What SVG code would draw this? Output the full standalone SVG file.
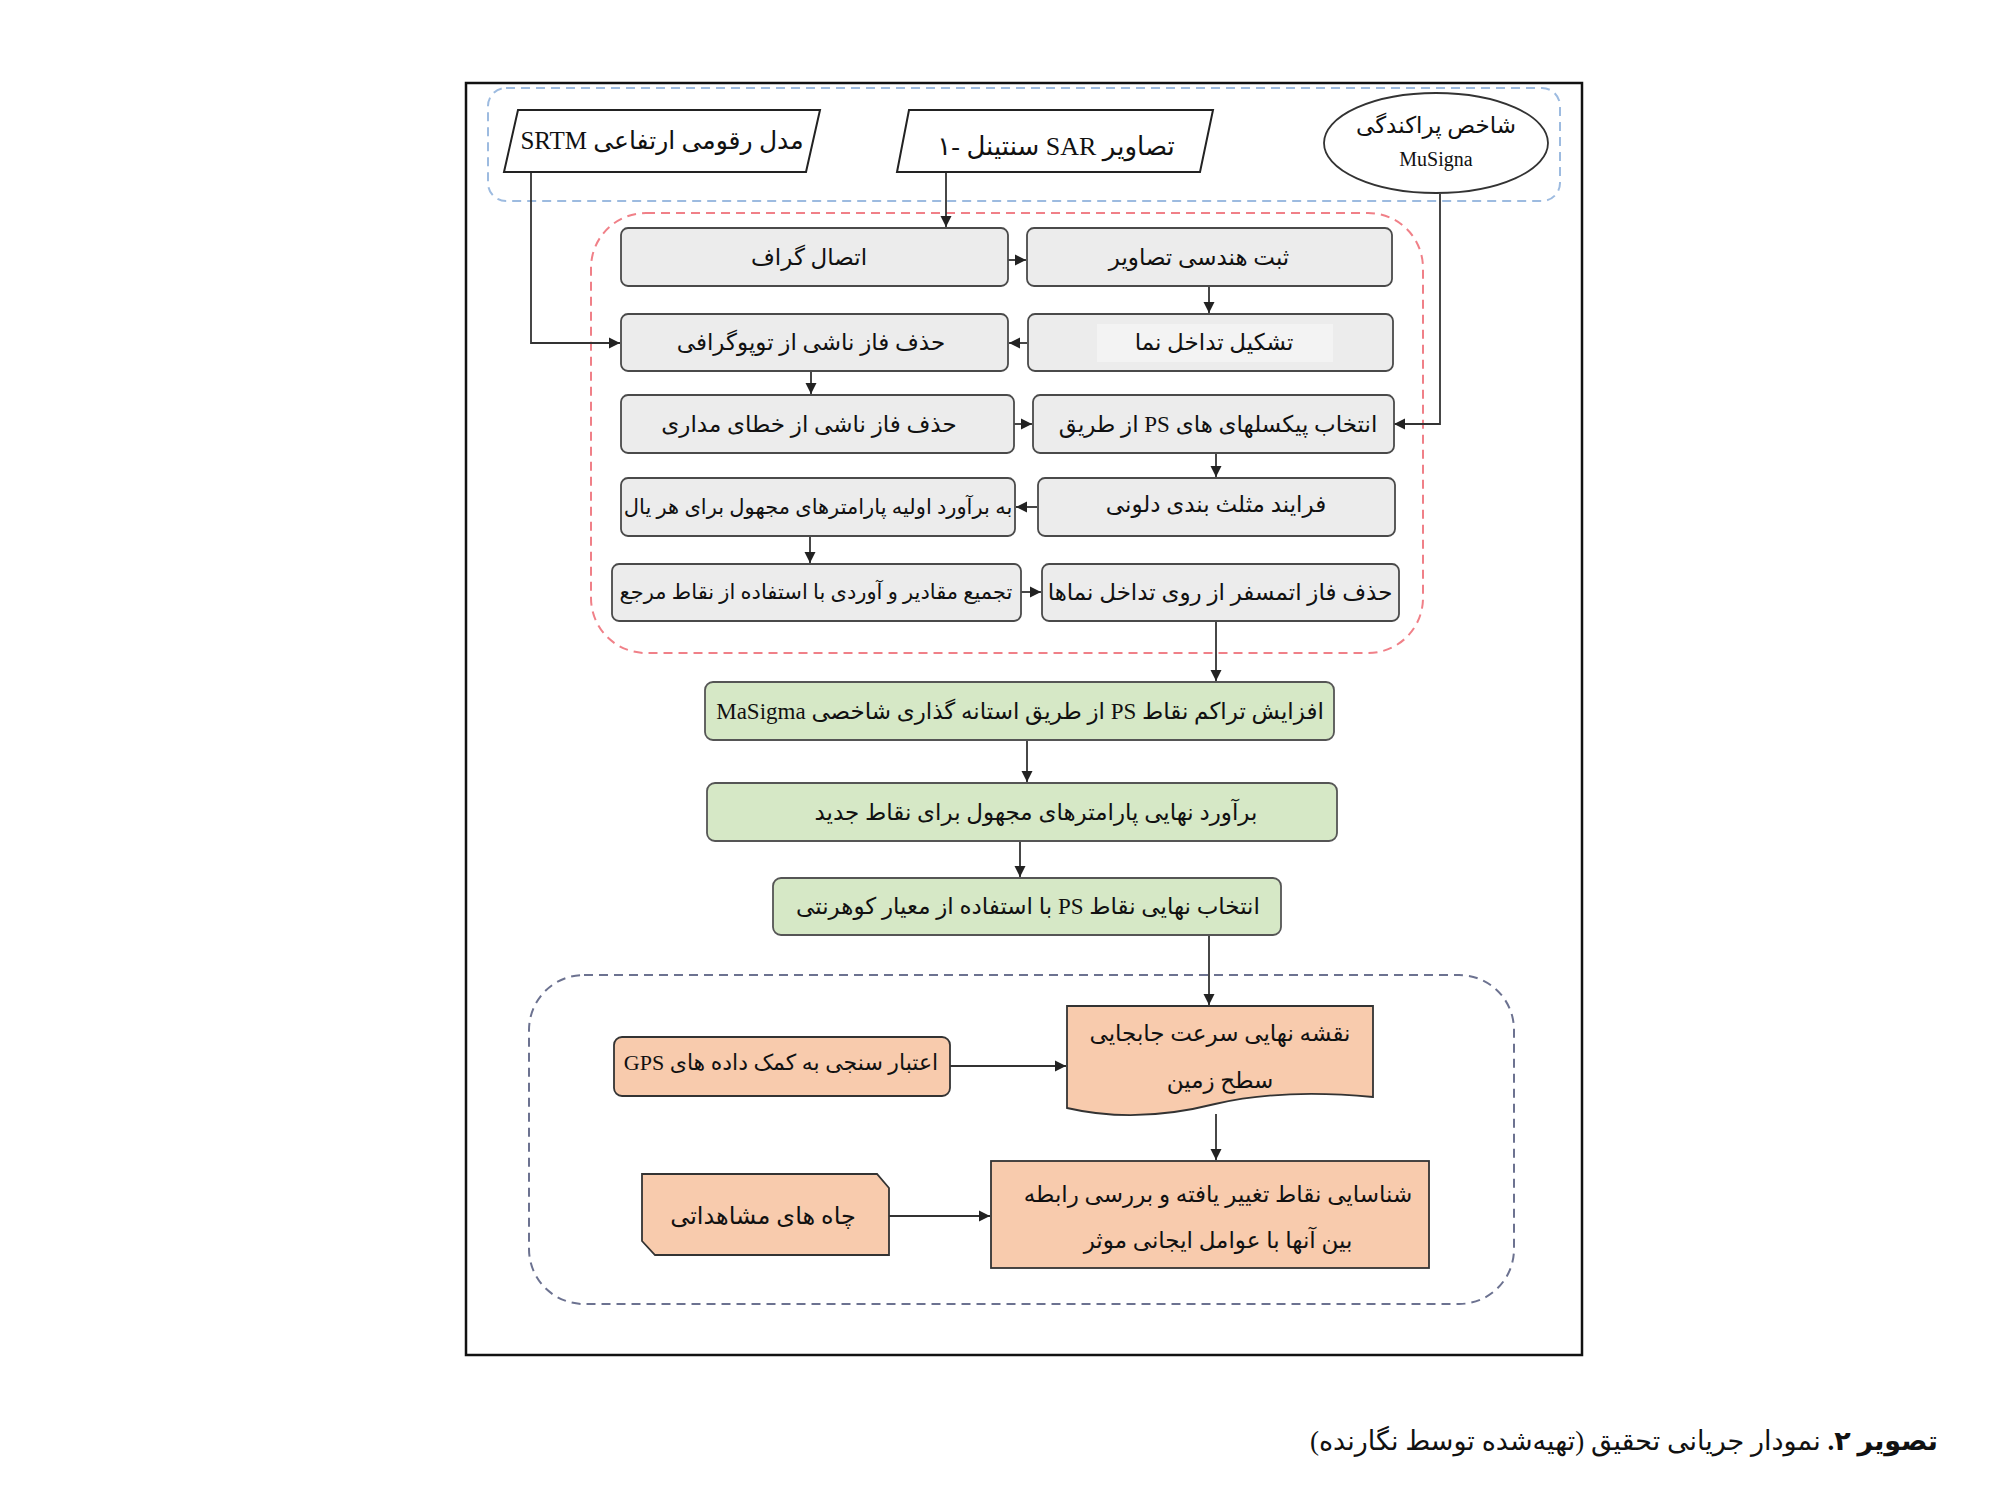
<svg xmlns="http://www.w3.org/2000/svg" width="2000" height="1497" viewBox="0 0 2000 1497">
<defs>
<marker id="arr" markerUnits="userSpaceOnUse" markerWidth="12" markerHeight="12" refX="11" refY="6" orient="auto">
<path d="M0,0.5 L11,6 L0,11.5 Z" fill="#222"/>
</marker>
<style>
.box{fill:#ececec;stroke:#4a4a4a;stroke-width:1.8}
.green{fill:#d6e8c6;stroke:#555;stroke-width:1.8}
.orange{fill:#f8cbad;stroke:#333;stroke-width:1.8}
.io{fill:#fff;stroke:#222;stroke-width:2}
.t{font-family:'Liberation Serif','DejaVu Sans',serif;font-size:23px;fill:#111;text-anchor:middle;direction:rtl;unicode-bidi:embed}
.long{font-size:21px}
.conn{stroke:#333;stroke-width:1.8;fill:none;marker-end:url(#arr)}
.grp{fill:none;stroke-width:2;stroke-dasharray:9,6}
</style>
</defs>
<rect width="2000" height="1497" fill="#fff"/>
<g id="frame"><rect x="466" y="83" width="1116" height="1272" fill="none" stroke="#111" stroke-width="2.5"/></g>
<g id="group-inputs"><rect class="grp" x="488" y="88" width="1072" height="113" rx="18" stroke="#9dbbe0"/></g>
<g id="group-processing"><rect class="grp" x="591" y="213" width="832" height="440" rx="55" stroke="#f08088"/></g>
<g id="group-results"><rect class="grp" x="529" y="975" width="985" height="329" rx="55" stroke="#6c7290"/></g>

<g id="connectors">
<path class="conn" d="M946,172 V227"/>
<path class="conn" d="M531,172 V343 H620"/>
<path class="conn" d="M1440,194 V424 H1394"/>
<path class="conn" d="M1008,260 H1026"/>
<path class="conn" d="M1209,286 V313"/>
<path class="conn" d="M1027,343 H1009"/>
<path class="conn" d="M811,371 V394"/>
<path class="conn" d="M1014,424 H1032"/>
<path class="conn" d="M1216,453 V477"/>
<path class="conn" d="M1037,507 H1016"/>
<path class="conn" d="M810,536 V563"/>
<path class="conn" d="M1021,592 H1041"/>
<path class="conn" d="M1216,621 V681"/>
<path class="conn" d="M1027,740 V782"/>
<path class="conn" d="M1020,841 V877"/>
<path class="conn" d="M1209,935 V1005"/>
<path class="conn" d="M950,1066 H1066"/>
<path class="conn" d="M1216,1114 V1160"/>
<path class="conn" d="M889,1216 H990"/>
</g>

<g id="n-srtm"><polygon class="io" points="518,110 820,110 806,172 504,172"/><text class="t" x="662" y="149" style="font-size:25px">مدل رقومی ارتفاعی SRTM</text></g>
<g id="n-sar"><polygon class="io" points="909,110 1213,110 1200,172 897,172"/><text class="t" x="1056" y="155" style="font-size:26px">تصاویر SAR سنتینل -۱</text></g>
<g id="n-musigma"><ellipse cx="1436" cy="143" rx="112" ry="50" fill="#fff" stroke="#333" stroke-width="1.8"/><text class="t" x="1436" y="133">شاخص پراکندگی</text><text class="t" x="1436" y="166" style="font-size:20px">MuSigna</text></g>

<g id="n-graph"><rect class="box" x="621" y="228" width="387" height="58" rx="7"/><text class="t" x="809" y="265">اتصال گراف</text></g>
<g id="n-coreg"><rect class="box" x="1027" y="228" width="365" height="58" rx="7"/><text class="t" x="1199" y="265">ثبت هندسی تصاویر</text></g>
<g id="n-topo"><rect class="box" x="621" y="314" width="387" height="57" rx="7"/><text class="t" x="811" y="350">حذف فاز ناشی از توپوگرافی</text></g>
<g id="n-ifg"><rect class="box" x="1028" y="314" width="365" height="57" rx="7"/><rect x="1097" y="324" width="236" height="38" fill="#f3f3f3"/><text class="t" x="1214" y="350">تشکیل تداخل نما</text></g>
<g id="n-orbit"><rect class="box" x="621" y="395" width="393" height="58" rx="7"/><text class="t" x="809" y="432">حذف فاز ناشی از خطای مداری</text></g>
<g id="n-ps"><rect class="box" x="1033" y="395" width="361" height="58" rx="7"/><text class="t" x="1218" y="432">انتخاب پیکسلهای های PS از طریق</text></g>
<g id="n-est"><rect class="box" x="621" y="478" width="394" height="58" rx="7"/><text class="t long" x="818" y="514">به برآورد اولیه پارامترهای مجهول برای هر یال</text></g>
<g id="n-delaunay"><rect class="box" x="1038" y="478" width="357" height="58" rx="7"/><text class="t" x="1216" y="512">فرایند مثلث بندی دلونی</text></g>
<g id="n-integrate"><rect class="box" x="612" y="564" width="409" height="57" rx="7"/><text class="t long" x="816" y="599">تجمیع مقادیر و آوردی با استفاده از نقاط مرجع</text></g>
<g id="n-atmo"><rect class="box" x="1042" y="564" width="357" height="57" rx="7"/><text class="t" x="1220" y="600">حذف فاز اتمسفر از روی تداخل نماها</text></g>

<g id="n-densify"><rect class="green" x="705" y="682" width="629" height="58" rx="8"/><text class="t" x="1020" y="719">افزایش تراکم نقاط PS از طریق استانه گذاری شاخصی MaSigma</text></g>
<g id="n-final-est"><rect class="green" x="707" y="783" width="630" height="58" rx="8"/><text class="t" x="1036" y="820">برآورد نهایی پارامترهای مجهول برای نقاط جدید</text></g>
<g id="n-final-ps"><rect class="green" x="773" y="878" width="508" height="57" rx="8"/><text class="t" x="1028" y="914">انتخاب نهایی نقاط PS با استفاده از معیار کوهرنتی</text></g>

<g id="n-map"><path class="orange" d="M1067,1006 H1373 V1097 C1320,1092 1262,1093 1215,1104 C1160,1118 1110,1118 1067,1108 Z"/><text class="t" x="1220" y="1041">نقشه نهایی سرعت جابجایی</text><text class="t" x="1220" y="1088">سطح زمین</text></g>
<g id="n-gps"><rect class="orange" x="614" y="1037" width="336" height="59" rx="8"/><text class="t" x="781" y="1070" style="font-size:22px">اعتبار سنجی به کمک داده های GPS</text></g>
<g id="n-wells"><path class="orange" d="M642,1174 H877 L889,1188 V1255 H655 L642,1241 Z"/><text class="t" x="763" y="1224" style="font-size:24px">چاه های مشاهداتی</text></g>
<g id="n-identify"><rect class="orange" x="991" y="1161" width="438" height="107"/><text class="t" x="1218" y="1202">شناسایی نقاط تغییر یافته و بررسی رابطه</text><text class="t" x="1218" y="1248">بین آنها با عوامل ایجانی موثر</text></g>

<g id="caption"><text class="t" x="1938" y="1450" style="text-anchor:start;font-size:27px"><tspan font-weight="bold">تصویر ۲.</tspan> نمودار جریانی تحقیق (تهیه‌شده توسط نگارنده)</text></g>
</svg>
